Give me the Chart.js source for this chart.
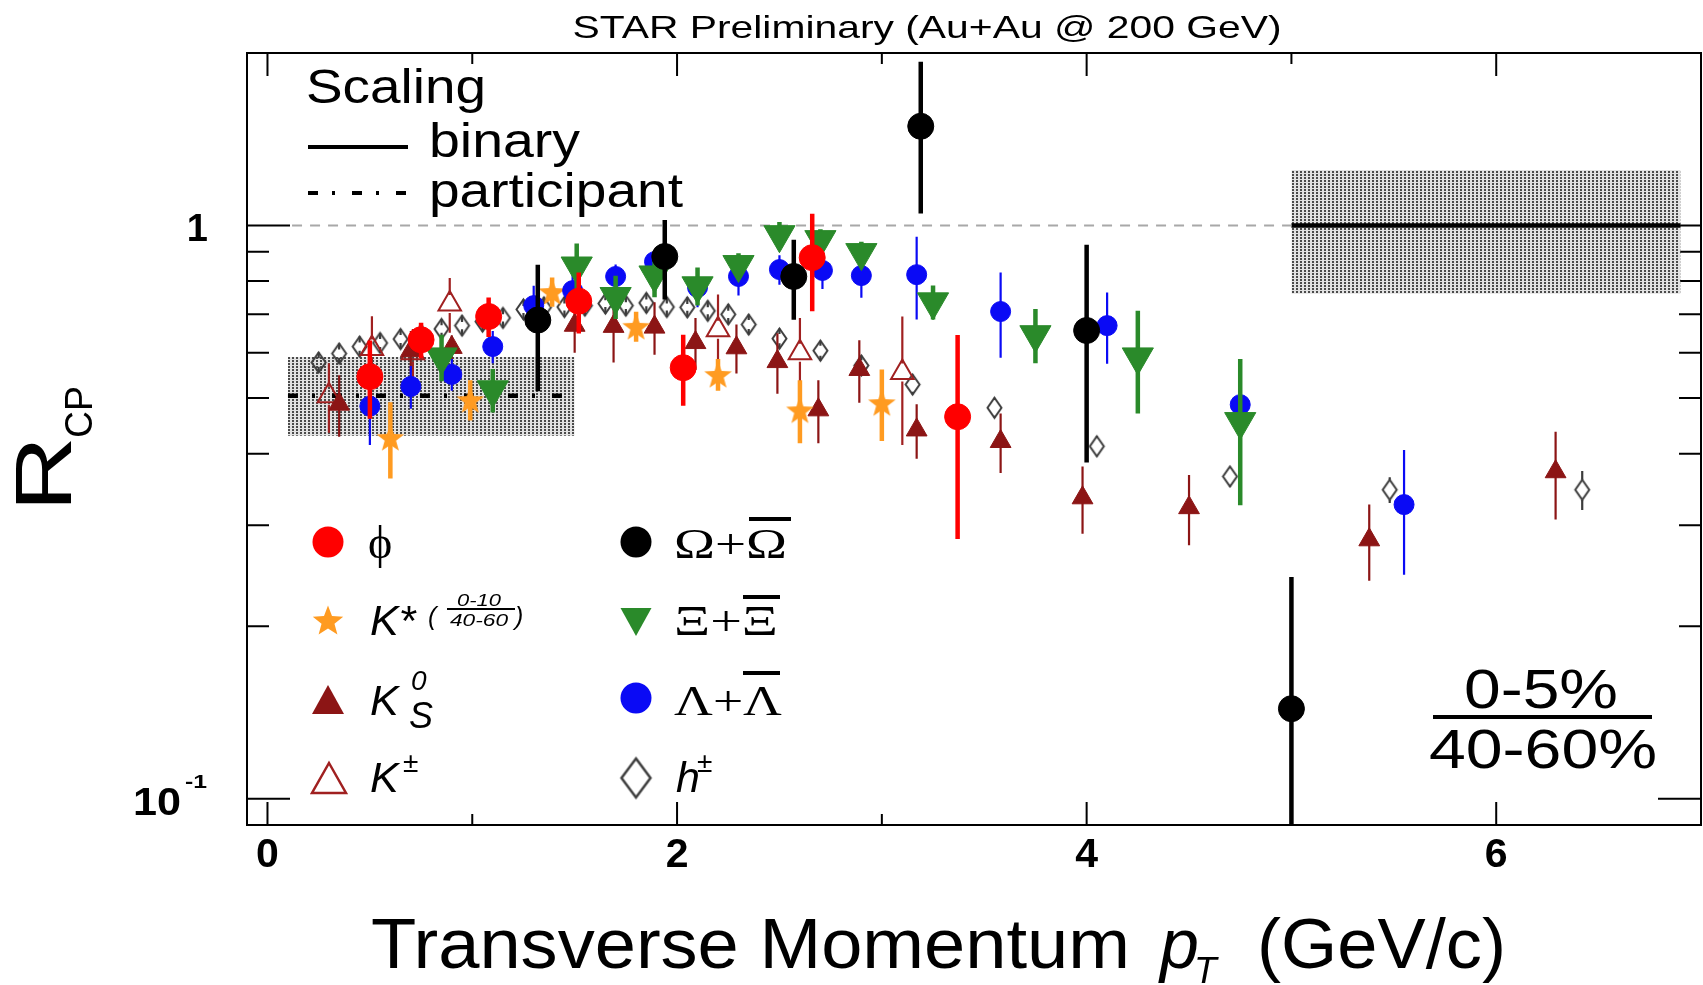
<!DOCTYPE html>
<html>
<head>
<meta charset="utf-8">
<title>R_CP vs p_T</title>
<script src="https://cdn.jsdelivr.net/npm/chart.js@4.4.1/dist/chart.umd.min.js"></script>
<style>
  html, body { margin: 0; padding: 0; background: #fff; overflow: hidden; }
  #wrap { width: 1703px; height: 985px; }
</style>
</head>
<body>
<div id="wrap"><canvas id="rcp" width="1703" height="985"></canvas></div>
<script>
// R_CP = (0-5%) / (40-60%) central/peripheral ratios, Au+Au 200 GeV

// axes
const X_RANGE = [-0.1, 7.0];
const Y_RANGE = [0.09, 2.0];
const X_MAJOR = [0, 2, 4, 6];
const X_MINOR = [1, 3, 5];
const Y_MAJOR = [0.1, 1];
const Y_MINOR = [0.2, 0.3, 0.4, 0.5, 0.6, 0.7, 0.8, 0.9];

// phi
const PHI_X = [0.50, 0.75, 1.08, 1.52, 2.03, 2.66, 3.37];
const PHI_Y = [0.545, 0.632, 0.694, 0.738, 0.565, 0.879, 0.464];
const PHI_E = [0.085, 0.045, 0.055, 0.09, 0.08, 0.17, 0.18];

// K* (0-10% / 40-60%)
const KSTAR_X = [0.60, 0.99, 1.39, 1.80, 2.20, 2.60, 3.00];
const KSTAR_Y = [0.427, 0.497, 0.767, 0.667, 0.55, 0.477, 0.491];
const KSTAR_E = [0.065, 0.04, 0.045, 0.04, 0.035, 0.06, 0.07];

// K0s
const K0S_X = [0.35, 0.70, 0.90, 1.50, 1.69, 1.89, 2.09, 2.29, 2.49, 2.69, 2.89, 3.17, 3.58, 3.98, 4.50, 5.38, 6.29];
const K0S_Y = [0.488, 0.605, 0.613, 0.67, 0.667, 0.665, 0.625, 0.612, 0.579, 0.477, 0.561, 0.44, 0.42, 0.335, 0.322, 0.283, 0.372];
const K0S_E = [0.06, 0.05, 0.03, 0.07, 0.09, 0.07, 0.065, 0.06, 0.07, 0.06, 0.07, 0.048, 0.05, 0.045, 0.045, 0.043, 0.065];

// K+-
const KPM_X = [0.30, 0.51, 0.71, 0.89, 2.20, 2.60, 3.10];
const KPM_Y = [0.505, 0.61, 0.60, 0.73, 0.658, 0.60, 0.554];
const KPM_E = [0.07, 0.085, 0.06, 0.08, 0.10, 0.09, 0.14];

// Omega + anti-Omega
const OMEGA_X = [1.32, 1.94, 2.57, 3.19, 4.00, 5.00];
const OMEGA_Y = [0.684, 0.883, 0.815, 1.49, 0.656, 0.1436];
const OMEGA_E = [0.17, 0.14, 0.13, 0.44, 0.27, 0.10];

// Xi + anti-Xi
const XI_X = [0.85, 1.10, 1.51, 1.70, 1.89, 2.10, 2.30, 2.50, 2.70, 2.90, 3.25, 3.75, 4.25, 4.75];
const XI_Y = [0.59, 0.517, 0.85, 0.752, 0.82, 0.785, 0.855, 0.964, 0.945, 0.897, 0.736, 0.645, 0.59, 0.455];
const XI_E = [0.055, 0.045, 0.08, 0.065, 0.07, 0.06, 0.04, 0.05, 0.04, 0.04, 0.05, 0.07, 0.12, 0.13];

// Lambda + anti-Lambda
const LAM_X = [0.50, 0.70, 0.90, 1.10, 1.30, 1.49, 1.70, 1.89, 2.10, 2.30, 2.50, 2.71, 2.90, 3.17, 3.58, 4.10, 4.75, 5.55];
const LAM_Y = [0.484, 0.524, 0.55, 0.615, 0.725, 0.77, 0.815, 0.865, 0.78, 0.815, 0.838, 0.835, 0.818, 0.821, 0.708, 0.669, 0.487, 0.326];
const LAM_E = [0.07, 0.045, 0.035, 0.04, 0.06, 0.06, 0.04, 0.04, 0.06, 0.06, 0.05, 0.06, 0.07, 0.135, 0.12, 0.095, 0.03, 0.08];

// charged hadrons
const H_X = [0.25, 0.35, 0.45, 0.55, 0.65, 0.75, 0.85, 0.95, 1.05, 1.15, 1.25, 1.35, 1.45, 1.55, 1.65, 1.75, 1.85, 1.95, 2.05, 2.15, 2.25, 2.35, 2.50, 2.70, 2.90, 3.15, 3.55, 4.05, 4.70, 5.48, 6.42];
const H_Y = [0.577, 0.598, 0.615, 0.624, 0.634, 0.645, 0.66, 0.669, 0.68, 0.69, 0.714, 0.72, 0.721, 0.725, 0.731, 0.725, 0.733, 0.721, 0.72, 0.71, 0.70, 0.672, 0.635, 0.605, 0.57, 0.528, 0.481, 0.412, 0.365, 0.346, 0.346];
const H_E = [0.01, 0.01, 0.01, 0.01, 0.01, 0.01, 0.01, 0.01, 0.01, 0.01, 0.01, 0.01, 0.01, 0.01, 0.01, 0.01, 0.01, 0.01, 0.01, 0.01, 0.01, 0.012, 0.012, 0.012, 0.012, 0.015, 0.015, 0.015, 0.015, 0.018, 0.027];

// scaling references: binary (N_bin) and participant (N_part)
const UNITY_X = [0.12, 5.0];
const BINARY_X = [5.0, 6.9];
const BINARY_Y = 1.0;
const BINARY_BAND = [0.76, 1.25];
const PART_X = [0.1, 1.5];
const PART_Y = 0.505;
const PART_BAND = [0.43, 0.59];

const SANS = '"Liberation Sans", Arial, Helvetica, sans-serif';
const SERIF = '"Liberation Serif", "Times New Roman", serif';

const C_PHI = '#ff0000';
const C_KSTAR = '#ff9b21';
const C_K0S = '#8c1515';
const C_KPM = '#a02020';
const C_XI = '#2a8a2a';
const C_LAM = '#0a0af5';
const C_H = '#3c3c3c';

function pts(xs, ys) {
    return xs.map((x, i) => ({ x: x, y: ys[i] }));
}

// filled five-pointed star as a point image
function starMarker(R, r, color) {
    const s = Math.ceil(2 * R + 4);
    const c = document.createElement('canvas');
    c.width = s; c.height = s;
    const g = c.getContext('2d');
    g.translate(s / 2, s / 2 + R * 0.1);
    g.beginPath();
    for (let k = 0; k < 10; k++) {
        const a = -Math.PI / 2 + k * Math.PI / 5;
        const rr = k % 2 ? r : R;
        g.lineTo(rr * Math.cos(a), rr * Math.sin(a));
    }
    g.closePath();
    g.fillStyle = color;
    g.fill();
    return c;
}

// open narrow diamond as a point image
function diamondMarker(hw, hh, color, lw) {
    const w = Math.ceil(2 * hw + lw + 3), h = Math.ceil(2 * hh + lw + 3);
    const c = document.createElement('canvas');
    c.width = w; c.height = h;
    const g = c.getContext('2d');
    g.translate(w / 2, h / 2);
    g.beginPath();
    g.moveTo(0, -hh); g.lineTo(hw, 0); g.lineTo(0, hh); g.lineTo(-hw, 0);
    g.closePath();
    g.strokeStyle = color;
    g.lineWidth = lw;
    g.stroke();
    return c;
}

// dotted grey fill used for the normalisation uncertainty boxes
function stipple(ctx) {
    const c = document.createElement('canvas');
    c.width = 4; c.height = 3;
    const g = c.getContext('2d');
    g.fillStyle = '#e2e2e2';
    g.fillRect(0, 0, 4, 3);
    g.fillStyle = '#4a4a4a';
    g.fillRect(0, 0, 2, 2);
    return ctx.createPattern(c, 'repeat');
}

// text with optional horizontal stretch to a given width
function label(ctx, s, x, y, font, o) {
    o = o || {};
    ctx.save();
    ctx.font = font;
    ctx.fillStyle = o.color || '#000';
    ctx.textAlign = 'left';
    ctx.textBaseline = 'alphabetic';
    const w0 = ctx.measureText(s).width;
    const sx = o.width ? o.width / w0 : (o.sx || 1);
    const w = w0 * sx;
    const left = o.align === 'center' ? x - w / 2 : (o.align === 'right' ? x - w : x);
    ctx.translate(left, y);
    ctx.scale(sx, 1);
    ctx.fillText(s, 0, 0);
    ctx.restore();
    return left + w;
}

function hline(ctx, x0, x1, y, lw, dash) {
    ctx.save();
    ctx.strokeStyle = '#000';
    ctx.lineWidth = lw;
    if (dash) ctx.setLineDash(dash);
    ctx.beginPath();
    ctx.moveTo(x0, y);
    ctx.lineTo(x1, y);
    ctx.stroke();
    ctx.restore();
}

const canvas = document.getElementById('rcp');
const ctx0 = canvas.getContext('2d');
const STAR_IMG = starMarker(14.5, 6, C_KSTAR);
const STAR_KEY = starMarker(16, 6.8, C_KSTAR);
const DIAMOND_IMG = diamondMarker(7, 10, C_H, 2);
const DIAMOND_KEY = diamondMarker(14.5, 19.5, C_H, 2.5);

// vertical error bars, drawn right before each data set's markers
const errorBars = {
    id: 'errorBars',
    beforeDatasetDraw(chart, args) {
        const ds = chart.data.datasets[args.index];
        if (!ds.errors) return;
        const { ctx, chartArea: a } = chart;
        const xs = chart.scales.x, ys = chart.scales.y;
        ctx.save();
        ctx.beginPath();
        ctx.rect(a.left, a.top, a.right - a.left, a.bottom - a.top);
        ctx.clip();
        ctx.strokeStyle = ds.errColor;
        ctx.lineWidth = ds.errWidth;
        const gap = ds.errGap || 0;
        ds.data.forEach((p, i) => {
            const e = ds.errors[i];
            const px = xs.getPixelForValue(p.x);
            const py = ys.getPixelForValue(p.y);
            const hi = ys.getPixelForValue(p.y + e);
            const lo = p.y - e > 0 ? ys.getPixelForValue(p.y - e) : a.bottom + 20;
            ctx.beginPath();
            ctx.moveTo(px, hi);
            ctx.lineTo(px, py - gap);
            ctx.moveTo(px, py + gap);
            ctx.lineTo(px, lo);
            ctx.stroke();
        });
        ctx.restore();
    }
};

// ROOT-style frame with inward ticks on all four sides
const rootFrame = {
    id: 'rootFrame',
    beforeDatasetsDraw(chart) {
        const { ctx, chartArea: a } = chart;
        const xs = chart.scales.x, ys = chart.scales.y;
        ctx.save();
        ctx.strokeStyle = '#000';
        ctx.lineWidth = 2;
        ctx.strokeRect(a.left, a.top, a.right - a.left, a.bottom - a.top);
        ctx.beginPath();
        const xt = (v, len) => {
            const p = xs.getPixelForValue(v);
            ctx.moveTo(p, a.bottom); ctx.lineTo(p, a.bottom - len);
            ctx.moveTo(p, a.top); ctx.lineTo(p, a.top + len);
        };
        const yt = (v, len) => {
            const p = ys.getPixelForValue(v);
            ctx.moveTo(a.left, p); ctx.lineTo(a.left + len, p);
            ctx.moveTo(a.right, p); ctx.lineTo(a.right - len, p);
        };
        X_MAJOR.forEach(v => xt(v, 23));
        X_MINOR.forEach(v => xt(v, 11));
        Y_MAJOR.forEach(v => yt(v, 43));
        Y_MINOR.forEach(v => yt(v, 22));
        ctx.stroke();

        // tick labels
        X_MAJOR.forEach(v => {
            label(ctx, String(v), xs.getPixelForValue(v), 867, `bold 41px ${SANS}`, { align: 'center' });
        });
        const y1 = ys.getPixelForValue(1);
        const y01 = ys.getPixelForValue(0.1);
        label(ctx, '1', 208, y1 + 15, `bold 38px ${SANS}`, { align: 'right' });
        label(ctx, '10', 133, y01 + 16, `bold 38px ${SANS}`, { width: 48 });
        label(ctx, '-1', 185, y01 - 11, `bold 18px ${SANS}`, { width: 22 });
        ctx.restore();
    }
};

function keyMarker(ctx, kind, x, y, color) {
    ctx.save();
    ctx.fillStyle = color;
    ctx.strokeStyle = color;
    ctx.lineWidth = 2.5;
    ctx.beginPath();
    if (kind === 'circle') {
        ctx.arc(x, y, 15.5, 0, 2 * Math.PI);
        ctx.fill();
    } else if (kind === 'up') {
        ctx.moveTo(x, y - 15); ctx.lineTo(x + 16, y + 14); ctx.lineTo(x - 16, y + 14);
        ctx.closePath(); ctx.fill();
    } else if (kind === 'open') {
        ctx.moveTo(x, y - 15); ctx.lineTo(x + 17, y + 15); ctx.lineTo(x - 17, y + 15);
        ctx.closePath(); ctx.stroke();
    } else if (kind === 'down') {
        ctx.moveTo(x - 15.5, y - 13); ctx.lineTo(x + 15.5, y - 13); ctx.lineTo(x, y + 15);
        ctx.closePath(); ctx.fill();
    } else if (kind === 'star') {
        ctx.drawImage(STAR_KEY, x - STAR_KEY.width / 2, y - STAR_KEY.height / 2);
    } else if (kind === 'diamond') {
        ctx.drawImage(DIAMOND_KEY, x - DIAMOND_KEY.width / 2, y - DIAMOND_KEY.height / 2);
    }
    ctx.restore();
}

// titles, scaling key, species key, centrality label
const annotations = {
    id: 'annotations',
    afterDraw(chart) {
        const ctx = chart.ctx;
        ctx.save();

        label(ctx, 'STAR Preliminary (Au+Au @ 200 GeV)', 927, 38, `32px ${SANS}`, { align: 'center', width: 709 });

        // x axis title
        label(ctx, 'Transverse Momentum', 371, 968, `70px ${SANS}`, { width: 759 });
        label(ctx, 'p', 1160, 968, `italic 70px ${SANS}`);
        label(ctx, 'T', 1194, 983, `italic 37px ${SANS}`);
        label(ctx, '(GeV/c)', 1257, 968, `70px ${SANS}`, { width: 249 });

        // y axis title
        ctx.save();
        ctx.translate(71, 512);
        ctx.rotate(-Math.PI / 2);
        const rEnd = label(ctx, 'R', 0, 0, `80px ${SANS}`, { width: 76 });
        label(ctx, 'CP', rEnd - 2, 21, `38px ${SANS}`, { width: 52 });
        ctx.restore();

        // scaling key
        label(ctx, 'Scaling', 306, 103, `48px ${SANS}`, { width: 180 });
        hline(ctx, 308, 408, 147, 4);
        label(ctx, 'binary', 429, 157, `48px ${SANS}`, { width: 151 });
        hline(ctx, 308, 408, 193, 4, [10, 14, 3, 17]);
        label(ctx, 'participant', 429, 207, `48px ${SANS}`, { width: 254 });

        // species key, left column
        keyMarker(ctx, 'circle', 328, 542, C_PHI);
        label(ctx, 'ϕ', 368, 558, `46px ${SERIF}`);
        keyMarker(ctx, 'star', 328, 620, C_KSTAR);
        label(ctx, 'K*', 370, 635, `italic 43px ${SANS}`);
        label(ctx, '(', 428, 625, `italic 25px ${SANS}`);
        label(ctx, '0-10', 479, 606, `italic 17px ${SANS}`, { align: 'center', width: 44 });
        hline(ctx, 447, 515, 609, 2);
        label(ctx, '40-60', 479, 626, `italic 17px ${SANS}`, { align: 'center', width: 58 });
        label(ctx, ')', 515, 625, `italic 25px ${SANS}`);
        keyMarker(ctx, 'up', 328, 700, C_K0S);
        label(ctx, 'K', 370, 715, `italic 43px ${SANS}`);
        label(ctx, '0', 411, 690, `italic 28px ${SANS}`);
        label(ctx, 'S', 409, 728, `italic 36px ${SANS}`);
        keyMarker(ctx, 'open', 329, 778, C_KPM);
        label(ctx, 'K', 370, 792, `italic 43px ${SANS}`);
        label(ctx, '±', 403, 772, `28px ${SANS}`);

        // species key, right column
        keyMarker(ctx, 'circle', 636, 542, '#000');
        label(ctx, 'Ω+Ω', 674, 558, `42px ${SERIF}`, { width: 113 });
        hline(ctx, 749, 791, 519, 4);
        keyMarker(ctx, 'down', 636, 621, C_XI);
        label(ctx, 'Ξ+Ξ', 674, 635, `42px ${SERIF}`, { width: 104 });
        hline(ctx, 743, 780, 597, 4);
        keyMarker(ctx, 'circle', 636, 698, C_LAM);
        label(ctx, 'Λ+Λ', 674, 715, `42px ${SERIF}`, { width: 108 });
        hline(ctx, 743, 780, 673, 4);
        keyMarker(ctx, 'diamond', 636, 778, C_H);
        label(ctx, 'h', 676, 792, `italic 43px ${SANS}`);
        label(ctx, '±', 697, 772, `28px ${SANS}`);

        // centrality ratio
        label(ctx, '0-5%', 1541, 708, `56px ${SANS}`, { align: 'center', width: 154 });
        hline(ctx, 1433, 1652, 717, 4);
        label(ctx, '40-60%', 1543, 768, `56px ${SANS}`, { align: 'center', width: 228 });

        ctx.restore();
    }
};

function series(label, xs, ys, errs, order, style) {
    return Object.assign({
        type: 'scatter',
        label: label,
        data: pts(xs, ys),
        errors: errs,
        order: order,
        showLine: false,
        pointBorderWidth: 1
    }, style);
}

const pattern = stipple(ctx0);

const datasets = [
    series('Ω+Ω̄', OMEGA_X, OMEGA_Y, OMEGA_E, 0, {
        pointStyle: 'circle', pointRadius: 13,
        pointBackgroundColor: '#000', pointBorderColor: '#000',
        errColor: '#000', errWidth: 4.5
    }),
    series('φ', PHI_X, PHI_Y, PHI_E, 1, {
        pointStyle: 'circle', pointRadius: 13,
        pointBackgroundColor: C_PHI, pointBorderColor: C_PHI,
        errColor: C_PHI, errWidth: 4.5
    }),
    series('Ξ+Ξ̄', XI_X, XI_Y, XI_E, 2, {
        pointStyle: 'triangle', pointRadius: 18, pointRotation: 180,
        pointBackgroundColor: C_XI, pointBorderColor: C_XI,
        errColor: C_XI, errWidth: 4.5
    }),
    series('Λ+Λ̄', LAM_X, LAM_Y, LAM_E, 3, {
        pointStyle: 'circle', pointRadius: 10,
        pointBackgroundColor: C_LAM, pointBorderColor: C_LAM,
        errColor: C_LAM, errWidth: 2.2
    }),
    series('K*', KSTAR_X, KSTAR_Y, KSTAR_E, 4, {
        pointStyle: STAR_IMG, pointRadius: 10,
        errColor: C_KSTAR, errWidth: 4.5
    }),
    series('K0S', K0S_X, K0S_Y, K0S_E, 5, {
        pointStyle: 'triangle', pointRadius: 12,
        pointBackgroundColor: C_K0S, pointBorderColor: C_K0S,
        errColor: C_K0S, errWidth: 2.2
    }),
    series('K±', KPM_X, KPM_Y, KPM_E, 6, {
        pointStyle: 'triangle', pointRadius: 13,
        pointBackgroundColor: 'rgba(0,0,0,0)', pointBorderColor: C_KPM, pointBorderWidth: 2,
        errColor: C_KPM, errWidth: 2.2, errGap: 9
    }),
    series('h±', H_X, H_Y, H_E, 7, {
        pointStyle: DIAMOND_IMG, pointRadius: 8,
        errColor: C_H, errWidth: 2.2, errGap: 10
    }),
    {
        type: 'line', label: 'unity', order: 10,
        data: pts(UNITY_X, [1, 1]),
        borderColor: '#a8a8a8', borderWidth: 2, borderDash: [10, 8],
        pointRadius: 0, fill: false
    },
    {
        type: 'line', label: 'binary', order: 11,
        data: pts(BINARY_X, [BINARY_Y, BINARY_Y]),
        borderColor: '#000', borderWidth: 4.5,
        pointRadius: 0, fill: false
    },
    {
        type: 'line', label: 'participant', order: 11,
        data: pts(PART_X, [PART_Y, PART_Y]),
        borderColor: '#000', borderWidth: 4.5, borderDash: [10, 14, 3, 17],
        pointRadius: 0, fill: false
    },
    {
        type: 'line', label: 'binary band', order: 12,
        data: pts(BINARY_X, [BINARY_BAND[1], BINARY_BAND[1]]),
        borderWidth: 0, pointRadius: 0,
        backgroundColor: pattern, fill: { value: BINARY_BAND[0] }
    },
    {
        type: 'line', label: 'participant band', order: 12,
        data: pts(PART_X, [PART_BAND[1], PART_BAND[1]]),
        borderWidth: 0, pointRadius: 0,
        backgroundColor: pattern, fill: { value: PART_BAND[0] }
    }
];

new Chart(canvas, {
    type: 'scatter',
    data: { datasets: datasets },
    options: {
        responsive: false,
        animation: false,
        events: [],
        layout: {
            autoPadding: false,
            padding: { left: 247, top: 53, right: 2, bottom: 160 }
        },
        scales: {
            x: { type: 'linear', min: X_RANGE[0], max: X_RANGE[1], display: false },
            y: { type: 'logarithmic', min: Y_RANGE[0], max: Y_RANGE[1], display: false }
        },
        plugins: {
            legend: { display: false },
            tooltip: { enabled: false }
        }
    },
    plugins: [rootFrame, errorBars, annotations]
});
</script>
</body>
</html>
